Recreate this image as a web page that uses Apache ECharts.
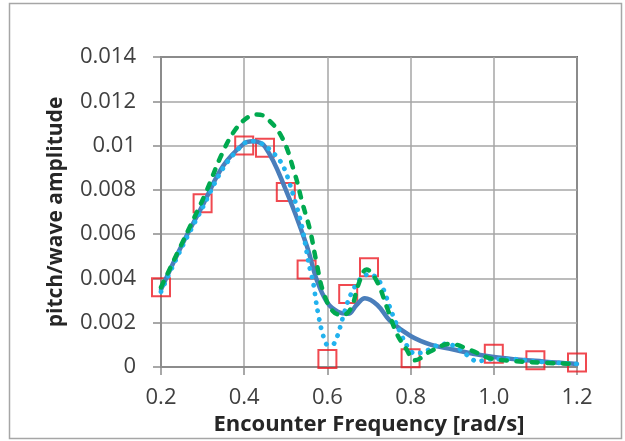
<!DOCTYPE html>
<html>
<head>
<meta charset="utf-8">
<script src="https://cdn.jsdelivr.net/npm/echarts@6/dist/echarts.min.js"></script>
<style>
  html, body { margin: 0; padding: 0; background: #fff; }
  #chart { width: 625px; height: 441px; }
</style>
</head>
<body>
<div id="chart"></div>
<script>
// Measured points (red squares)
const expFreq = [0.2, 0.3, 0.4, 0.45, 0.5, 0.55, 0.6, 0.65, 0.7, 0.8, 1.0, 1.1, 1.2];
const expAmp  = [0.0036, 0.0074, 0.0100, 0.0099, 0.0079, 0.0044, 0.00036, 0.0033, 0.0045, 0.0004, 0.0006, 0.0003, 0.0002];

// Solid blue curve
const solidFreq = [0.2, 0.25, 0.3, 0.35, 0.4, 0.42, 0.45, 0.5, 0.55, 0.575, 0.6, 0.625, 0.65, 0.67, 0.69, 0.72, 0.75, 0.8, 0.85, 0.9, 0.95, 1.0, 1.05, 1.1, 1.15, 1.2];
const solidAmp  = [0.0035, 0.0055, 0.0073, 0.0091, 0.0101, 0.0102, 0.00995, 0.0080, 0.0055, 0.0039, 0.0029, 0.0025, 0.0024, 0.0028, 0.0031, 0.0028, 0.0021, 0.0014, 0.0010, 0.0008, 0.0006, 0.00045, 0.00035, 0.00028, 0.0002, 0.00014];

// Dotted light-blue curve
const dotFreq = [0.2, 0.25, 0.3, 0.35, 0.4, 0.42, 0.45, 0.49, 0.514, 0.538, 0.556, 0.566, 0.574, 0.582, 0.59, 0.6, 0.612, 0.624, 0.635, 0.65, 0.665, 0.68, 0.7, 0.72, 0.735, 0.75, 0.767, 0.79, 0.81, 0.835, 0.86, 0.887, 0.915, 0.935, 0.96, 0.99, 1.05, 1.1, 1.2];
const dotAmp  = [0.0034, 0.0054, 0.0072, 0.0090, 0.0101, 0.0102, 0.0100, 0.0092, 0.0080, 0.0064, 0.0046, 0.0038, 0.0028, 0.0020, 0.0014, 0.0010, 0.0010, 0.0014, 0.0021, 0.0030, 0.0036, 0.0040, 0.0042, 0.0040, 0.0035, 0.0027, 0.0019, 0.0010, 0.0006, 0.0007, 0.00095, 0.00105, 0.00085, 0.00055, 0.00025, 0.00035, 0.00035, 0.00025, 0.00014];

// Dashed green curve
const dashFreq = [0.2, 0.266, 0.306, 0.346, 0.378, 0.41, 0.43, 0.45, 0.49, 0.522, 0.54, 0.558, 0.574, 0.59, 0.614, 0.638, 0.658, 0.674, 0.694, 0.718, 0.743, 0.767, 0.79, 0.81, 0.847, 0.895, 0.943, 0.99, 1.04, 1.11, 1.18];
const dashAmp  = [0.0036, 0.0062, 0.0078, 0.0096, 0.0107, 0.0113, 0.0114, 0.0113, 0.0104, 0.0087, 0.0074, 0.0062, 0.0047, 0.0034, 0.0025, 0.00235, 0.0027, 0.0037, 0.0044, 0.0039, 0.0027, 0.0015, 0.0008, 0.0003, 0.0007, 0.00104, 0.00077, 0.0004, 0.00028, 0.0002, 0.00015];

// Tick settings
const xTicks = { min: 0.2, max: 1.2, interval: 0.2 };
const yTicks = { min: 0, max: 0.014, interval: 0.002 };

const pairs = (xs, ys) => xs.map((x, i) => [x, ys[i]]);

const chart = echarts.init(document.getElementById('chart'), null, { renderer: 'canvas' });
const FONT = '"Open Sans", "Noto Sans", sans-serif';

chart.setOption({
  animation: false,
  backgroundColor: '#ffffff',
  graphic: [{
    type: 'rect',
    shape: { x: 9.5, y: 3.5, width: 612, height: 435 },
    style: { fill: 'none', stroke: '#a6a6a6', lineWidth: 1.5 },
    silent: true
  }],
  grid: {
    left: 161, right: 48, top: 57, bottom: 74,
    show: true, borderColor: '#000000', borderWidth: 1.5, backgroundColor: 'transparent'
  },
  xAxis: {
    type: 'value',
    min: xTicks.min, max: xTicks.max, interval: xTicks.interval,
    name: 'Encounter Frequency [rad/s]',
    nameLocation: 'middle',
    nameGap: 42,
    nameTextStyle: { fontFamily: FONT, fontWeight: 'bold', fontSize: 22, color: '#262626' },
    axisLine: { show: true, lineStyle: { color: '#8c8c8c', width: 2 } },
    axisTick: { show: true, length: 8, inside: false, lineStyle: { color: '#8c8c8c', width: 1.5 } },
    axisLabel: {
      margin: 20, fontFamily: FONT, fontSize: 22, color: '#404040',
      formatter: v => v.toFixed(1)
    },
    splitLine: { show: true, lineStyle: { color: '#a6a6a6', width: 1.5 } }
  },
  yAxis: {
    type: 'value',
    min: yTicks.min, max: yTicks.max, interval: yTicks.interval,
    name: 'pitch/wave amplitude',
    nameLocation: 'middle',
    nameGap: 94,
    nameTextStyle: { fontFamily: FONT, fontWeight: 'bold', fontSize: 21, color: '#262626' },
    axisLine: { show: true, lineStyle: { color: '#8c8c8c', width: 2 } },
    axisTick: { show: true, length: 8, inside: false, lineStyle: { color: '#8c8c8c', width: 1.5 } },
    axisLabel: {
      margin: 25, fontFamily: FONT, fontSize: 22, color: '#404040',
      formatter: v => String(parseFloat(v.toFixed(3)))
    },
    splitLine: { show: true, lineStyle: { color: '#a6a6a6', width: 1.5 } }
  },
  series: [
    {
      type: 'scatter',
      data: pairs(expFreq, expAmp),
      symbol: 'rect',
      symbolSize: 18,
      itemStyle: { color: 'rgba(255,255,255,0)', borderColor: '#ec1c24', borderWidth: 2 },
      z: 2
    },
    {
      type: 'line',
      data: pairs(solidFreq, solidAmp),
      smooth: 0.4,
      showSymbol: false,
      lineStyle: { color: '#4a7ebb', width: 4.5, cap: 'round' },
      z: 3
    },
    {
      type: 'line',
      data: pairs(dotFreq, dotAmp),
      smooth: 0.3,
      showSymbol: false,
      lineStyle: { color: '#22b2ee', width: 4.8, type: [0.1, 8.5], cap: 'round' },
      z: 4
    },
    {
      type: 'line',
      data: pairs(dashFreq, dashAmp),
      smooth: 0.4,
      showSymbol: false,
      lineStyle: { color: '#00a94f', width: 4.5, type: [6, 9.5], cap: 'round' },
      z: 5
    }
  ]
});
</script>
</body>
</html>
